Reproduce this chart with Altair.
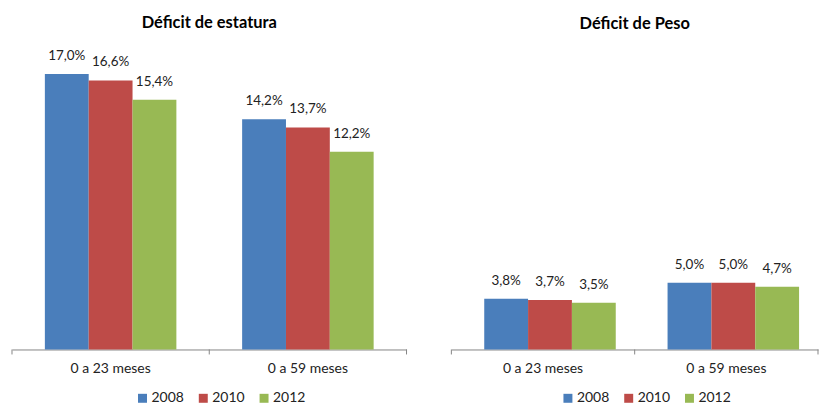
import altair as alt
import pandas as pd

categories = ["0 a 23 meses", "0 a 59 meses"]
years = ["2008", "2010", "2012"]
colors = ["#4A7EBB", "#BE4B48", "#98B954"]

estatura_2008 = [17.0, 14.2]
estatura_2010 = [16.6, 13.7]
estatura_2012 = [15.4, 12.2]

peso_2008 = [3.8, 5.0]
peso_2010 = [3.7, 5.0]
peso_2012 = [3.5, 4.7]


def make_df(s2008, s2010, s2012):
    rows = []
    for yr, series in zip(years, [s2008, s2010, s2012]):
        for cat, v in zip(categories, series):
            rows.append({"cat": cat, "year": yr, "value": v,
                         "label": f"{v:.1f}%".replace(".", ",")})
    return pd.DataFrame(rows)


FONT = "Lato"
H = 300


def panel(df, title, width, ymax, legend_x):
    xs = alt.Scale(domain=categories, paddingInner=0, paddingOuter=0)
    base = alt.Chart(df).encode(
        x=alt.X("cat:N", scale=xs, sort=categories,
                axis=alt.Axis(title=None, labelAngle=0, ticks=False,
                              domainColor="#868686", labelFont=FONT,
                              labelFontSize=14, labelColor="#222222",
                              labelPadding=12)),
        xOffset=alt.XOffset("year:N", sort=years,
                            scale=alt.Scale(paddingInner=0, paddingOuter=0.75)),
        y=alt.Y("value:Q", scale=alt.Scale(domain=[0, ymax], nice=False),
                axis=None),
    )
    bars = base.mark_bar().encode(
        color=alt.Color("year:N", sort=years,
                        scale=alt.Scale(domain=years, range=colors),
                        legend=alt.Legend(title=None, orient="none",
                                          direction="horizontal",
                                          legendX=legend_x, legendY=H + 42,
                                          symbolType="square", symbolSize=81,
                                          symbolStrokeWidth=0,
                                          labelFont=FONT, labelFontSize=14,
                                          labelColor="#222222",
                                          labelOffset=2, columnPadding=12))
    )
    text = base.mark_text(dy=-18, baseline="middle", font=FONT,
                          fontSize=13.5, color="#222222").encode(text="label:N")
    tick_df = pd.DataFrame({"cat": categories})
    ticks0 = alt.Chart(tick_df).mark_rule(color="#868686").encode(
        x=alt.X("cat:N", scale=xs, sort=categories, bandPosition=0),
        y=alt.value(H), y2=alt.value(H + 5))
    ticks1 = alt.Chart(tick_df.tail(1)).mark_rule(color="#868686").encode(
        x=alt.X("cat:N", scale=xs, sort=categories, bandPosition=1),
        y=alt.value(H), y2=alt.value(H + 5))
    return alt.layer(bars, text, ticks0, ticks1).properties(
        width=width, height=H,
        title=alt.TitleParams(title, font=FONT, fontSize=16.5,
                              fontWeight="bold", color="#000000",
                              anchor="middle", offset=18))


left = panel(make_df(estatura_2008, estatura_2010, estatura_2012),
             "Déficit de estatura", 396, 18.44, 124)
right = panel(make_df(peso_2008, peso_2010, peso_2012),
              "Déficit de Peso", 368, 22.4, 110)

chart = alt.hconcat(left, right, spacing=43).resolve_scale(
    color="independent", y="independent"
).resolve_legend(color="independent").configure_view(
    stroke=None
).properties(
    padding={"left": 3, "top": 5, "right": 0, "bottom": 0}
)

chart.save("out.html", embed_options={"renderer": "svg", "actions": False})
